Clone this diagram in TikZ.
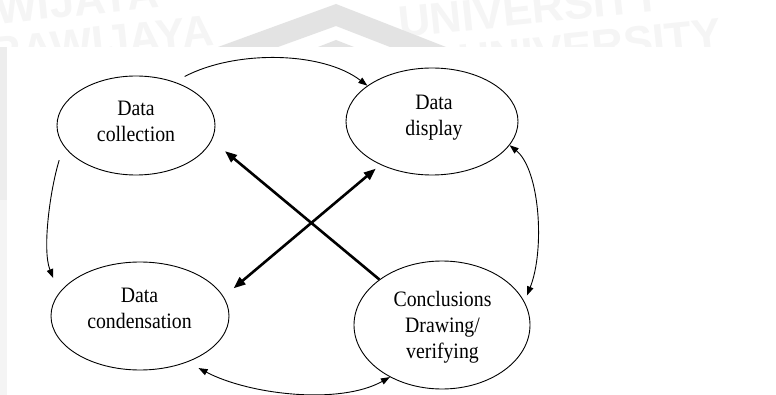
\documentclass[tikz,border=0pt]{standalone}
\usepackage{fontspec}
\setmainfont{Liberation Serif}
\newfontfamily\diafont[FakeStretch=0.9]{Liberation Serif}
\newfontfamily\wmfont{Liberation Sans}
\usetikzlibrary{arrows.meta,shapes.geometric}
\begin{document}
\begin{tikzpicture}[x=1pt,y=-1pt,
  ell/.style={draw, ellipse, line width=0.9pt, inner sep=0pt},
  lbl/.style={font=\diafont\fontsize{22}{26}\selectfont, align=center, inner sep=0pt},
  thintip/.tip={Triangle[length=9pt,width=6.5pt]},
  thicktip/.tip={Triangle[length=12pt,width=9pt]},
  thinarr/.style={line width=0.9pt, -thintip},
  thinboth/.style={line width=0.9pt, thintip-thintip},
  thickarr/.style={line width=2.6pt, -thicktip},
  thickboth/.style={line width=2.6pt, thicktip-thicktip},
  wm/.style={font=\wmfont\bfseries\fontsize{44}{44}\selectfont, text=gray!8, inner sep=0pt, rotate=6}
]
\useasboundingbox (0,0) rectangle (776,395);
\fill[white] (0,0) rectangle (776,395);
% faint watermark band
\node[wm, anchor=base west] (wm1) at (-95,34) {BRAWIJAYA};
\node[wm, anchor=base west] (wm2) at (400,38) {UNIVERSITY};
\node[wm, anchor=base west] (wm3) at (-40,72) {BRAWIJAYA};
\node[wm, anchor=base west] (wm4) at (460,76) {UNIVERSITY};
\fill[gray!22] (218,47) -- (336,4) -- (446,47) -- (390,47) -- (336,26) -- (278,47) -- cycle;
\fill[gray!22] (318,47) -- (336,40) -- (354,47) -- cycle;
\fill[gray!14] (0,47) rectangle (7,200);
\fill[gray!9] (0,200) rectangle (7,395);
\fill[white] (7,47) rectangle (776,395);

% ellipses
\node[ell, minimum width=158pt, minimum height=99pt] (col) at (136,125.5) {};
\node[ell, minimum width=172pt, minimum height=107pt] (disp) at (432,121.5) {};
\node[ell, minimum width=178pt, minimum height=108pt] (cond) at (140,316) {};
\node[ell, minimum width=176pt, minimum height=128pt] (conc) at (442,325) {};

% labels
\node[lbl] (colT) at (136,121.5) {Data\\collection};
\node[lbl] (dispT) at (434,117.5) {Data\\display};
\node[lbl] (condT) at (139.5,308) {Data\\condensation};
\node[lbl] (concT) at (442.5,327) {Conclusions\\Drawing/\\verifying};

% thin curved connectors
\draw[thinarr] ([xshift=1pt,yshift=9pt]col.40) .. controls (235,50) and (322,51) .. (disp.151);
\draw[thinarr] ([xshift=-13pt,yshift=-5pt]col.205) .. controls (50,190) and (42,250) .. ([xshift=-10pt,yshift=10pt]cond.160);
\draw[thinboth] (disp.343) .. controls (540,170) and (545,250) .. ([xshift=5pt,yshift=2pt]conc.19);
\draw[thinboth] ([xshift=6pt,yshift=-8pt]cond.320) .. controls (250,395) and (340,405) .. (conc.225);

% thick crossing connectors
\draw[thickarr, shorten >=17pt] (conc.144) -- (col.349);
\draw[thickboth, shorten <=13pt, shorten >=6pt] (cond.13) -- (disp.220);
\end{tikzpicture}
\end{document}
